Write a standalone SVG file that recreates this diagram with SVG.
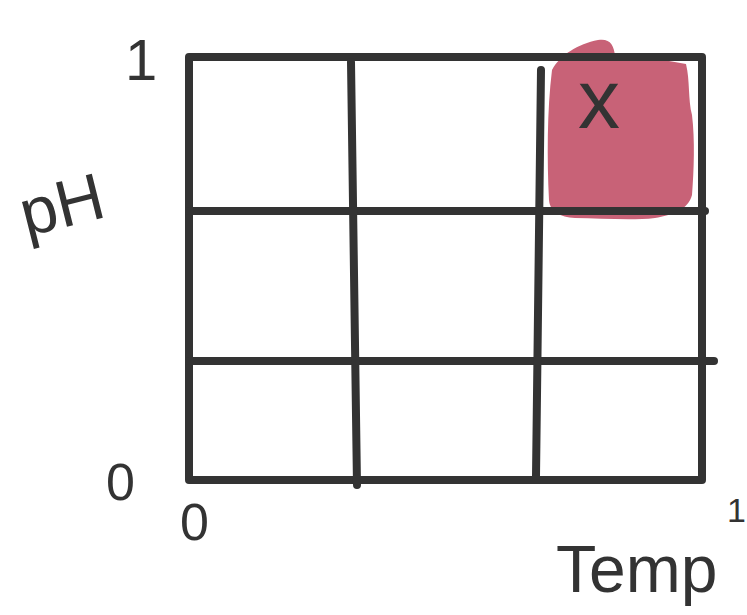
<svg xmlns="http://www.w3.org/2000/svg" width="747" height="615" viewBox="0 0 747 615">
<style>
.ln{stroke:#333;stroke-width:8;stroke-linecap:round;stroke-linejoin:round;fill:none}
.t{font-family:"Liberation Sans",Arial,sans-serif;fill:#333}
</style>
<rect width="747" height="615" fill="#fff"/>
<g id="highlight">
<path d="M552,70 C560,55 578,44 598,40 C610,38 614,45 615,56 L652,58 L686,64 C690,80 688,100 692,115 C695,140 694,170 692,195 C688,210 672,215 655,218 C630,221 600,218 575,218 C560,217 550,212 549,200 C547,160 547,110 552,70 Z" fill="#c86277"/>
</g>
<g id="connectors">
<path class="ln" d="M189,57 L702,57 L702,480 L189,480 Z"/>
<path class="ln" d="M189,211 L705,211"/>
<path class="ln" d="M189,361 L714,361"/>
<path class="ln" d="M351,62 L357,485"/>
<path class="ln" d="M541,70 L536,476"/>
</g>
<g id="labels">
<text class="t" x="125" y="80" font-size="58">1</text>
<text class="t" x="18" y="230" font-size="66" transform="rotate(-14 50 200)">pH</text>
<text class="t" x="106" y="500" font-size="52">0</text>
<text class="t" x="180" y="540" font-size="52">0</text>
<text class="t" x="556" y="592" font-size="66">Temp</text>
<text class="t" x="727" y="522" font-size="34">1</text>
<text class="t" x="578" y="128" font-size="84">x</text>
</g>
</svg>
